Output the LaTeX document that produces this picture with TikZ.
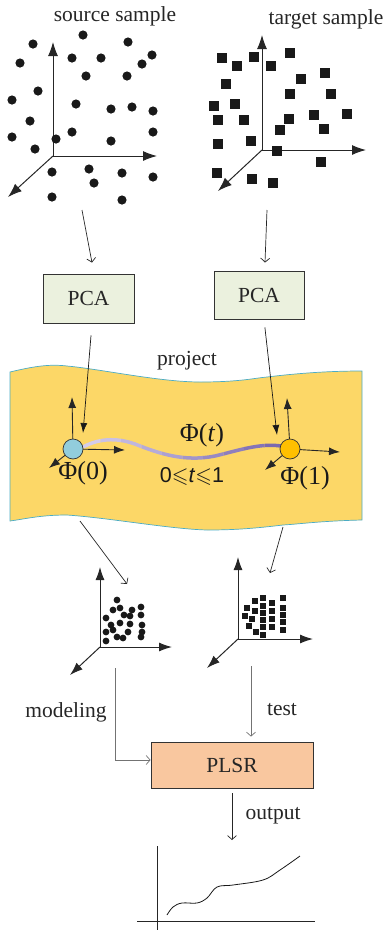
\documentclass[tikz,border=0pt]{standalone}
\usepackage{fontspec}
\usepackage{amssymb}
\setmainfont{Liberation Serif}
\newfontfamily\arialfont{Liberation Sans}
\usetikzlibrary{arrows.meta}

\definecolor{pcagreen}{HTML}{EBF1DE}
\definecolor{plsrpeach}{HTML}{F9C79F}
\definecolor{bandyellow}{HTML}{FCD767}
\definecolor{bandedge}{HTML}{4BACC6}
\definecolor{startblue}{HTML}{92CDDC}
\definecolor{endorange}{HTML}{FFC000}
\definecolor{pathlight}{HTML}{D4CCEA}
\definecolor{pathdark}{HTML}{7A68B0}

\begin{document}
\begin{tikzpicture}
	[x=1pt, y=-1pt,
	 axis/.style={-{Latex[length=14pt,width=10pt]}, line width=1pt, black!85},
	 smallaxis/.style={-{Latex[length=13pt,width=9pt]}, line width=1pt, black!85},
	 bandaxis/.style={-{Latex[length=11pt,width=8pt]}, line width=0.9pt, black!85},
	 proj/.style={-{Latex[length=10pt,width=7pt]}, line width=0.7pt, black!90},
	 flow/.style={-{Straight Barb[length=4pt,width=9pt]}, line width=0.7pt, black!85},
	 grayflow/.style={flow, black!55},
	 txt/.style={inner sep=0pt, text=black!85, font=\fontsize{21.5}{24}\selectfont},
	 phitxt/.style={inner sep=0pt, text=black!90, font=\fontsize{26}{28}\selectfont},
	 box/.style={draw=black!80, line width=0.8pt, inner sep=0pt, text=black!85, font=\fontsize{21.5}{24}\selectfont}]
	\useasboundingbox (0,0) rectangle (386,930);

	% source sample
	\node[txt] (srctitle) at (115,16) {source sample};
	\coordinate (srco) at (53,156);
	\draw[axis] (srco) -- (53,42);
	\draw[axis] (srco) -- (157,156);
	\draw[axis] (srco) -- (8,197);
	\foreach \x/\y in {83/35, 33/44, 128/42, 152/55, 142/64, 72/58, 101/58, 20/63, 86/76, 127/76,
		38/91, 12/100, 76/104, 111/109, 132/107, 153/111, 30/121, 12/137, 56/139, 72/132,
		111/141, 153/132, 35/149, 52/172, 89/169, 122/173, 153/177, 94/183, 52/197, 122/200}
		\fill[black!90] (\x,\y) circle (4.6pt);

	% target sample
	\node[txt] (tgttitle) at (326,19) {target sample};
	\coordinate (tgto) at (262,150);
	\draw[axis] (tgto) -- (262,35);
	\draw[axis] (tgto) -- (366,150);
	\draw[axis] (tgto) -- (218,191);
	\foreach \x/\y in {222/58, 237/66, 254/57, 271/66, 290/53, 301/79, 325/73, 226/84, 290/94, 331/94,
		214/106, 235/104, 218/120, 244/120, 289/119, 314/115, 347/114, 280/130, 324/129,
		218/144, 251/141, 277/151, 321/162, 217/173, 252/179, 273/183}
		\fill[black!90] ({\x-5},{\y-5}) rectangle ++(10,10);

	% PCA
	\node[box, fill=pcagreen, minimum width=91pt, minimum height=49pt] (pcaL) at (88.5,298.5) {PCA};
	\node[box, fill=pcagreen, minimum width=90pt, minimum height=48pt] (pcaR) at (259,295) {PCA};
	\coordinate (srcout) at (82,210);
	\coordinate (tgtout) at (267,210);
	\draw[flow] (srcout) -- ([xshift=3.5pt, yshift=11pt]pcaL.north);
	\draw[flow] (tgtout) -- ([xshift=6pt, yshift=8pt]pcaR.north);

	% projection band
	\node[txt] (projtxt) at (187,361) {project};
	\fill[bandyellow] (10,372) .. controls (35,366) and (50,364) .. (67,366)
		.. controls (100,369) and (160,382) .. (200,382)
		.. controls (240,382) and (255,378) .. (267,377)
		.. controls (300,373) and (330,371) .. (362,371)
		-- (362,520) .. controls (320,521) and (300,524) .. (283,525)
		.. controls (250,529) and (230,530) .. (207,530)
		.. controls (170,529) and (110,518) .. (67,515)
		.. controls (40,515) and (25,519) .. (10,521) -- cycle;
	\draw[bandedge, line width=0.7pt] (10,372) .. controls (35,366) and (50,364) .. (67,366)
		.. controls (100,369) and (160,382) .. (200,382)
		.. controls (240,382) and (255,378) .. (267,377)
		.. controls (300,373) and (330,371) .. (362,371)
		-- (362,520) .. controls (320,521) and (300,524) .. (283,525)
		.. controls (250,529) and (230,530) .. (207,530)
		.. controls (170,529) and (110,518) .. (67,515)
		.. controls (40,515) and (25,519) .. (10,521) -- cycle;

	% geodesic path
	\foreach \i [evaluate=\i as \p using {\i*11}] in {0,...,9} {
		\begin{scope}
			\clip ({80+\i*20.5},420) rectangle ++(20.5,50);
			\draw[pathdark!\p!pathlight, line width=3.5pt] (83,447) .. controls (98,439) and (115,437) .. (135,444)
				.. controls (160,454) and (185,462) .. (215,456)
				.. controls (240,450) and (260,443) .. (281,446);
		\end{scope}
	}
	\coordinate (o0) at (73,449);
	\coordinate (o1) at (290,449);
	\draw[bandaxis] (o0) -- (72,397);
	\draw[bandaxis] (o0) -- (125,450);
	\draw[bandaxis] (o0) -- (49,468);
	\draw[bandaxis] (o1) -- (287,398);
	\draw[bandaxis] (o1) -- (340,452);
	\draw[bandaxis] (o1) -- (265,470);
	\node[circle, draw=black!80, fill=startblue, line width=0.7pt, minimum size=20pt, inner sep=0pt] (c0) at (o0) {};
	\node[circle, draw=black!80, fill=endorange, line width=0.7pt, minimum size=20pt, inner sep=0pt] (c1) at (o1) {};
	\coordinate (c0in) at (83,433);
	\coordinate (c1in) at (277,435);
	\draw[proj, shorten <=12pt] ([xshift=3.5pt]pcaL.south) -- (c0in);
	\draw[proj, shorten <=8pt] ([xshift=5pt]pcaR.south) -- (c1in);
	\node[phitxt] (phit) at (202,435) {Φ(\textit{t})};
	\node[phitxt] (phi0) at (83,473) {Φ(0)};
	\node[phitxt] (phi1) at (305,478) {Φ(1)};
	\node[txt, text=black!90] (trange) at (192,476) {\arialfont 0$\leqslant$\textit{t}$\leqslant$1};

	% projected samples
	\coordinate (bandL) at (80,521);
	\coordinate (bandR) at (283,527);
	\coordinate (lowin) at (127,584);
	\coordinate (upin) at (270,573);
	\draw[flow] (bandL) -- (lowin);
	\draw[flow] (bandR) -- (upin);

	\coordinate (srcpo) at (100,647);
	\draw[smallaxis] (srcpo) -- (100,567);
	\draw[smallaxis] (srcpo) -- (172,647);
	\draw[smallaxis] (srcpo) -- (70,675);
	\foreach \x/\y in {117/600, 113/610, 120/608, 132/610, 141/607, 124/615, 130/616, 106/618, 141/615,
		111/625, 120/623, 130/624, 142/625, 106/632, 113/630, 128/632, 142/632, 117/637, 123/638,
		141/637, 106/641}
		\fill[black!90] (\x,\y) circle (3.4pt);

	\coordinate (tgtpo) at (238,639);
	\draw[smallaxis] (tgtpo) -- (238,557);
	\draw[smallaxis] (tgtpo) -- (313,639);
	\draw[smallaxis] (tgtpo) -- (207,668);
	\foreach \x/\y in {255/601, 263/598, 272/603, 283/598, 247/608, 255/611, 263/606, 263/613, 272/611,
		283/608, 245/616, 252/619, 263/620, 272/619, 283/615, 249/626, 256/632, 263/627, 272/627,
		283/622, 283/630, 263/635}
		\fill[black!90] ({\x-3.3},{\y-3.3}) rectangle ++(6.6,6.6);

	% PLSR
	\node[box, fill=plsrpeach, minimum width=162pt, minimum height=46pt] (plsr) at (232,765) {PLSR};
	\coordinate (modout) at (115,668);
	\coordinate (testout) at (251,666);
	\draw[grayflow] (modout) |- ([yshift=5pt]plsr.west);
	\draw[grayflow, shorten >=5pt] (testout) -- (testout |- plsr.north);
	\node[txt] (modtxt) at (66,712) {modeling};
	\node[txt] (testtxt) at (282,710) {test};
	\coordinate (outin) at (232,840);
	\draw[flow, shorten <=5pt] (plsr.south) -- (outin);
	\node[txt] (outtxt) at (273,816) {output};

	% output curve
	\draw[line width=0.8pt, black!85] (157,846) -- (157,930);
	\draw[line width=0.8pt, black!85] (137,921) -- (315,921);
	\draw[line width=0.8pt, black!90] plot[smooth, tension=0.6] coordinates {(167,915) (173,907) (182,903)
		(197,903) (207,898) (217,887) (233,885) (263,880) (280,870) (300,856)};
\end{tikzpicture}
\end{document}
